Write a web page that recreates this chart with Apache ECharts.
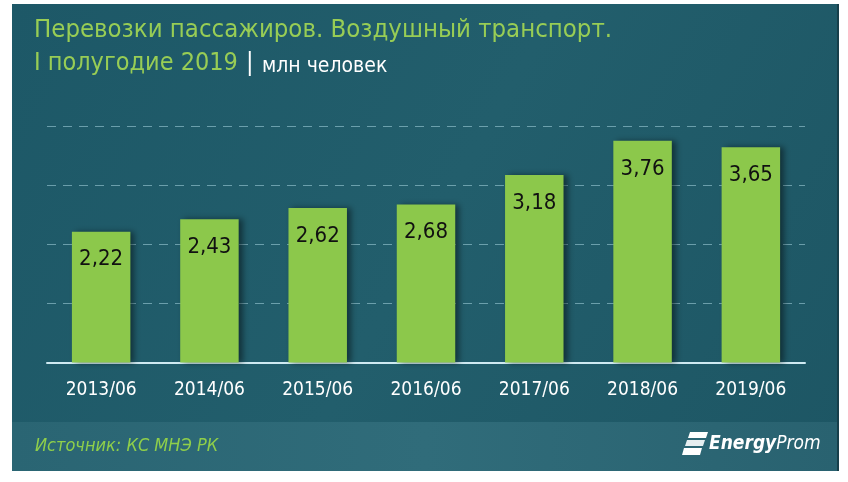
<!DOCTYPE html>
<html>
<head>
<meta charset="utf-8">
<script src="https://cdn.jsdelivr.net/npm/echarts@6/dist/echarts.min.js"></script>
<style>
html,body{margin:0;padding:0;background:#ffffff;}
#chart{width:848px;height:482px;}
</style>
</head>
<body>
<div id="chart"></div>
<script>
const categories = ['2013/06','2014/06','2015/06','2016/06','2017/06','2018/06','2019/06'];
const values = [2.22, 2.43, 2.62, 2.68, 3.18, 3.76, 3.65];
const titleLine1 = 'Перевозки пассажиров. Воздушный транспорт.';
const titleLine2 = 'I полугодие 2019';
const unitText = 'млн человек';
const sourceText = 'Источник: КС МНЭ РК';

const FONT = '"DejaVu Sans Condensed", "DejaVu Sans", sans-serif';
const chart = echarts.init(document.getElementById('chart'), null, {renderer:'canvas'});
chart.setOption({
  backgroundColor: '#ffffff',
  animation: false,
  graphic: [
    {type:'rect', z:-10, shape:{x:12,y:4,width:827,height:467},
     style:{fill:new echarts.graphic.LinearGradient(0,0,1,1,[{offset:0,color:'#1d5867'},{offset:0.5,color:'#225e6c'},{offset:1,color:'#1d5664'}])}},
    {type:'rect', z:-9, shape:{x:12,y:422,width:827,height:49},
     style:{fill:new echarts.graphic.LinearGradient(0,0,1,0,[{offset:0,color:'#2a6573'},{offset:0.5,color:'#306c7a'},{offset:1,color:'#296270'}])}},
    {type:'rect', z:-8, shape:{x:837,y:4,width:2,height:467}, style:{fill:'#173f4a'}},
    {type:'text', left:34, top:17, style:{text:titleLine1, fill:'#98cd55', font:'25.5px '+FONT}},
    {type:'text', left:34, top:51, style:{text:titleLine2, fill:'#98cd55', font:'25px '+FONT}},
    {type:'text', left:246, top:51, style:{text:'|', fill:'#ffffff', font:'25px '+FONT}},
    {type:'text', left:262, top:56, style:{text:unitText, fill:'#ffffff', font:'21px '+FONT}},
    {type:'text', left:35, top:437, style:{text:sourceText, fill:'#8fcf4a', font:'italic 18px '+FONT}},
    {type:'polygon', shape:{points:[[690,432],[708,432],[706,438],[688,438]]}, style:{fill:'#ffffff'}},
    {type:'polygon', shape:{points:[[687,440],[705,440],[703,446],[685,446]]}, style:{fill:'#e6eef0'}},
    {type:'polygon', shape:{points:[[684,448],[702,448],[700,455],[682,455]]}, style:{fill:'#ffffff'}},
    {type:'text', left:709, top:435, style:{text:'{a|Energy}{b|Prom}', fill:'#ffffff',
      rich:{a:{fontFamily:FONT, fontSize:19, fontStyle:'italic', fontWeight:'bold', fill:'#ffffff'},
            b:{fontFamily:FONT, fontSize:19, fontStyle:'italic', fill:'#ffffff'}}}}
  ],
  grid: {left:47, right:43, top:126.7, bottom:119.5, containLabel:false},
  xAxis: {
    type:'category', data:categories,
    axisLine:{lineStyle:{color:'#cfeaf2', width:2}},
    axisTick:{show:false},
    axisLabel:{color:'#ffffff', fontSize:19, fontFamily:FONT, margin:18}
  },
  yAxis: {
    type:'value', min:0, max:4, interval:1,
    axisLabel:{show:false}, axisLine:{show:false}, axisTick:{show:false},
    splitLine:{lineStyle:{color:'rgba(170,215,225,0.55)', type:[9,7], width:1}}
  },
  series: [{
    type:'bar', data:values, barWidth:'54%',
    itemStyle:{color:'#8cc84b', shadowColor:'rgba(0,0,0,0.45)', shadowBlur:6, shadowOffsetX:4, shadowOffsetY:0},
    label:{show:true, position:'insideTop', distance:17, color:'#111', fontSize:22, fontFamily:FONT,
      formatter:p=>p.value.toFixed(2).replace('.',',')}
  }]
});
</script>
</body>
</html>
